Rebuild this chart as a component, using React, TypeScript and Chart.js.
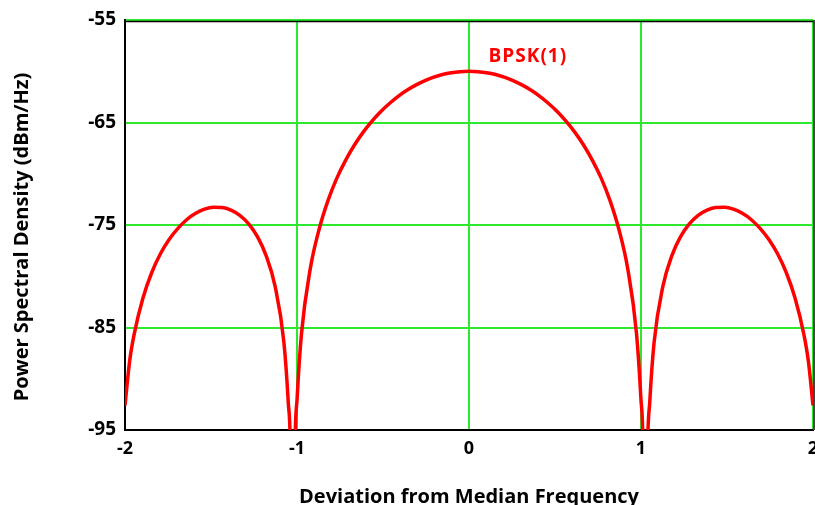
import React, { useEffect, useRef } from "react";
import { Chart, registerables } from "chart.js";

Chart.register(...registerables);

// Frequency deviation (normalised to chip rate)
const frequency = [
  -2.0, -1.973, -1.9475, -1.896, -1.845, -1.794, -1.7425, -1.691, -1.64, -1.589,
  -1.5375, -1.486, -1.435, -1.384, -1.3325, -1.281, -1.23, -1.179, -1.1275, -1.076,
  -1.051, -1.035, -1.025, -1.015, -0.999, -0.974, -0.9225, -0.871, -0.82, -0.769,
  -0.7175, -0.666, -0.615, -0.564, -0.5125, -0.461, -0.41, -0.359, -0.3075, -0.256,
  -0.205, -0.154, -0.1025, -0.051, 0,
  0.051, 0.1025, 0.154, 0.205, 0.256, 0.3075, 0.359, 0.41, 0.461, 0.5125,
  0.564, 0.615, 0.666, 0.7175, 0.769, 0.82, 0.871, 0.9225, 0.974, 0.999,
  1.015, 1.025, 1.035, 1.051, 1.076, 1.1275, 1.179, 1.23, 1.281, 1.3325,
  1.384, 1.435, 1.486, 1.5375, 1.589, 1.64, 1.691, 1.7425, 1.794, 1.845,
  1.896, 1.9475, 1.973, 2.0,
];

// Power spectral density (dBm/Hz) of BPSK(1)
const psd = [
  -92.6, -88.27, -85.72, -82.15, -79.66, -77.81, -76.39, -75.3, -74.46, -73.86,
  -73.46, -73.28, -73.3, -73.55, -74.06, -74.89, -76.14, -78.02, -80.97, -86.48,
  -92.26, -100.09, -130, -99.91, -91.83, -85.61, -79.23, -75.39, -72.62, -70.45,
  -68.69, -67.2, -65.94, -64.86, -63.92, -63.12, -62.42, -61.83, -61.33, -60.91,
  -60.58, -60.32, -60.14, -60.04, -60.0,
  -60.04, -60.14, -60.32, -60.58, -60.91, -61.33, -61.83, -62.42, -63.12, -63.92,
  -64.86, -65.94, -67.2, -68.69, -70.45, -72.62, -75.39, -79.23, -85.61, -91.83,
  -99.91, -130, -100.09, -92.26, -86.48, -80.97, -78.02, -76.14, -74.89, -74.06,
  -73.55, -73.3, -73.28, -73.46, -73.86, -74.46, -75.3, -76.39, -77.81, -79.66,
  -82.15, -85.72, -88.27, -92.6,
];

const seriesLabel = "BPSK(1)";
const xAxisTitle = "Deviation from Median Frequency";
const yAxisTitle = "Power Spectral Density (dBm/Hz)";
const xMin = -2;
const xMax = 2;
const yMin = -95;
const yMax = -55;
const labelAt = { x: 0.114, y: -58.6 };

const FONT = '"Open Sans", "DejaVu Sans", sans-serif';
const GRID_GREEN = "#2ee82e";

const decorPlugin = {
  id: "decor",
  beforeDatasetsDraw(chart: any) {
    const { ctx, chartArea } = chart;
    ctx.save();
    ctx.strokeStyle = "#000";
    ctx.lineWidth = 1.5;
    ctx.beginPath();
    ctx.moveTo(chartArea.left, chartArea.top + 1.5);
    ctx.lineTo(chartArea.right, chartArea.top + 1.5);
    ctx.stroke();
    ctx.strokeStyle = "#444";
    ctx.lineWidth = 2;
    ctx.beginPath();
    ctx.moveTo(chartArea.right + 1, chartArea.top);
    ctx.lineTo(chartArea.right + 1, chartArea.bottom);
    ctx.stroke();
    ctx.restore();
  },
  afterDatasetsDraw(chart: any) {
    const { ctx, scales } = chart;
    ctx.save();
    ctx.fillStyle = "#ff0000";
    ctx.font = `bold 19px ${FONT}`;
    (ctx as any).letterSpacing = "1px";
    ctx.textAlign = "left";
    ctx.textBaseline = "middle";
    ctx.fillText(seriesLabel, scales.x.getPixelForValue(labelAt.x), scales.y.getPixelForValue(labelAt.y));
    ctx.restore();
  },
  afterDraw(chart: any) {
    const { ctx } = chart;
    ctx.save();
    ctx.fillStyle = "#000";
    ctx.font = `bold 20px ${FONT}`;
    ctx.textAlign = "center";
    ctx.textBaseline = "middle";
    ctx.translate(22, 237);
    ctx.rotate(-Math.PI / 2);
    ctx.fillText(yAxisTitle, 0, 0);
    ctx.restore();
  },
};

export default function App() {
  const canvasRef = useRef<HTMLCanvasElement | null>(null);

  useEffect(() => {
    if (!canvasRef.current) return;
    const points = frequency.map((f, i) => ({ x: f, y: psd[i] }));
    const chart = new Chart(canvasRef.current, {
      type: "line",
      data: {
        datasets: [
          {
            label: seriesLabel,
            data: points,
            borderColor: "#ff0000",
            borderWidth: 3.5,
            pointRadius: 0,
            cubicInterpolationMode: "monotone",
            fill: false,
          },
        ],
      },
      options: {
        animation: false,
        responsive: false,
        devicePixelRatio: 1,
        layout: { padding: { top: 20, right: 2, left: 0, bottom: 0 } },
        plugins: {
          legend: { display: false },
          tooltip: { enabled: false },
        },
        scales: {
          x: {
            type: "linear",
            min: xMin,
            max: xMax,
            ticks: {
              stepSize: 1,
              color: "#000",
              font: { family: FONT, size: 18, weight: "bold" },
              padding: 8,
              maxRotation: 0,
            },
            grid: { color: GRID_GREEN, lineWidth: 2, drawTicks: false },
            border: { color: "#000", width: 2 },
            title: {
              display: true,
              text: xAxisTitle,
              color: "#000",
              font: { family: FONT, size: 20, weight: "bold" },
              padding: { top: 0, bottom: -4 },
            },
            afterFit: (s: any) => {
              s.height = 75;
              s.paddingLeft = 0;
              s.paddingRight = 0;
            },
          },
          y: {
            type: "linear",
            min: yMin,
            max: yMax,
            ticks: {
              stepSize: 10,
              color: "#000",
              font: { family: FONT, size: 19, weight: "bold" },
              padding: 9,
            },
            grid: { color: GRID_GREEN, lineWidth: 2, drawTicks: false },
            border: { color: "#000", width: 2 },
            afterFit: (s: any) => {
              s.width = 125;
              s.paddingTop = 0;
              s.paddingBottom = 0;
            },
          },
        },
      },
      plugins: [decorPlugin],
    });
    return () => chart.destroy();
  }, []);

  return (
    <div style={{ position: "fixed", left: 0, top: 0, width: 815, height: 505, background: "#fff" }}>
      <canvas ref={canvasRef} width={815} height={505} style={{ display: "block" }} />
    </div>
  );
}
